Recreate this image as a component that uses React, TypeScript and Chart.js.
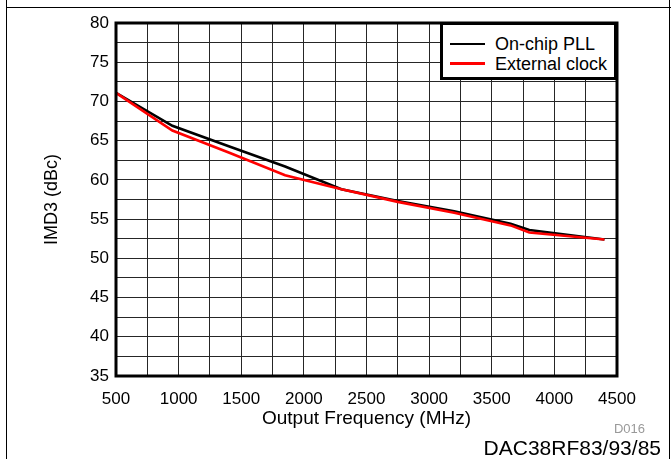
import React, { useEffect, useRef } from 'react';
import { Chart, registerables } from 'chart.js';

Chart.register(...registerables);

// Output frequency (MHz) at each measured point
const frequencies = [500, 950, 1400, 1850, 2300, 2750, 3200, 3650, 3800, 4400];
// IMD3 (dBc)
const onChipPll = [71.1, 66.9, 64.3, 61.7, 58.8, 57.3, 56.0, 54.4, 53.6, 52.4];
const externalClock = [71.1, 66.3, 63.5, 60.6, 58.8, 57.2, 55.8, 54.2, 53.3, 52.4];

const seriesNames = ['On-chip PLL', 'External clock'];
const seriesColors = ['#000000', '#ff0000'];

const xMin = 500;
const xMax = 4500;
const xStep = 250;
const xLabelStep = 500;
const yMin = 35;
const yMax = 80;
const yStep = 2.5;
const yLabelStep = 5;

const FONT = '"Liberation Sans", Arial, Helvetica, sans-serif';

const borderPlugin = {
  id: 'plotBorder',
  afterDraw(chart: any) {
    const { ctx, chartArea } = chart;
    ctx.save();
    ctx.strokeStyle = '#000';
    ctx.lineWidth = 3;
    ctx.strokeRect(chartArea.left, chartArea.top, chartArea.right - chartArea.left, chartArea.bottom - chartArea.top);
    ctx.restore();
  },
};

export default function App() {
  const ref = useRef<HTMLCanvasElement>(null);

  useEffect(() => {
    const toPoints = (vals: number[]) => frequencies.map((f, i) => ({ x: f, y: vals[i] }));
    const chart = new Chart(ref.current as HTMLCanvasElement, {
      type: 'line',
      data: {
        datasets: [
          {
            label: seriesNames[1],
            data: toPoints(externalClock),
            borderColor: seriesColors[1],
            backgroundColor: seriesColors[1],
            borderWidth: 2.6,
            pointRadius: 0,
            tension: 0,
          },
          {
            label: seriesNames[0],
            data: toPoints(onChipPll),
            borderColor: seriesColors[0],
            backgroundColor: seriesColors[0],
            borderWidth: 2.6,
            pointRadius: 0,
            tension: 0,
          },
        ],
      },
      options: {
        responsive: false,
        animation: false,
        devicePixelRatio: 1,
        layout: { padding: { left: 0, top: 23, right: 54, bottom: 0 } },
        plugins: { legend: { display: false }, tooltip: { enabled: false } },
        scales: {
          x: {
            type: 'linear',
            min: xMin,
            max: xMax,
            afterFit: (s: any) => { s.height = 83; },
            ticks: {
              stepSize: xStep,
              autoSkip: false,
              maxRotation: 0,
              padding: 13,
              color: '#000',
              font: { family: FONT, size: 17 },
              callback: (v: any) => (Number(v) % xLabelStep === 0 ? String(v) : ''),
            },
            grid: { color: '#262626', lineWidth: 1, drawTicks: false },
            border: { display: false },
            title: {
              display: true,
              text: 'Output Frequency (MHz)',
              color: '#000',
              font: { family: FONT, size: 19 },
              padding: { top: 0, bottom: 29 },
            },
          },
          y: {
            type: 'linear',
            min: yMin,
            max: yMax,
            afterFit: (s: any) => { s.width = 116; },
            ticks: {
              stepSize: yStep,
              autoSkip: false,
              padding: 7,
              color: '#000',
              font: { family: FONT, size: 17 },
              callback: (v: any) => (Number(v) % yLabelStep === 0 ? String(v) : ''),
            },
            grid: { color: '#262626', lineWidth: 1, drawTicks: false },
            border: { display: false },
            title: {
              display: true,
              text: 'IMD3 (dBc)',
              color: '#000',
              font: { family: FONT, size: 18 },
              padding: { top: 41, bottom: 0 },
            },
          },
        },
      },
      plugins: [borderPlugin],
    } as any);
    return () => chart.destroy();
  }, []);

  return (
    <div
      style={{
        position: 'fixed',
        left: 0,
        top: 0,
        width: 671,
        height: 459,
        background: '#fff',
        overflow: 'hidden',
        fontFamily: FONT,
        color: '#000',
      }}
    >
      <canvas ref={ref} width={671} height={459} style={{ position: 'absolute', left: 0, top: 0, width: 671, height: 459 }} />
      {/* frame */}
      <div style={{ position: 'absolute', left: 6, top: 0, width: 1, height: 459, background: '#000' }} />
      <div style={{ position: 'absolute', left: 669, top: 0, width: 1, height: 459, background: '#000' }} />
      <div style={{ position: 'absolute', left: 6, top: 7, width: 665, height: 1, background: '#000' }} />
      {/* legend */}
      <div
        style={{
          position: 'absolute',
          left: 440,
          top: 22,
          width: 177,
          height: 58,
          boxSizing: 'border-box',
          border: '3px solid #000',
          background: '#fff',
        }}
      >
        {seriesNames.map((name, i) => (
          <div key={name} style={{ position: 'absolute', left: 7, top: 9 + i * 19.5, height: 20, display: 'flex', alignItems: 'center' }}>
            <div style={{ width: 35, height: 2.6, background: seriesColors[i] }} />
            <span style={{ marginLeft: 10, fontSize: 18, lineHeight: '20px', whiteSpace: 'nowrap' }}>{name}</span>
          </div>
        ))}
      </div>
      {/* footers */}
      <div style={{ position: 'absolute', right: 671 - 645, top: 421, fontSize: 13, color: '#999', lineHeight: '16px' }}>D016</div>
      <div style={{ position: 'absolute', right: 671 - 661, top: 436, fontSize: 21, lineHeight: '24px', whiteSpace: 'nowrap' }}>DAC38RF83/93/85</div>
    </div>
  );
}
